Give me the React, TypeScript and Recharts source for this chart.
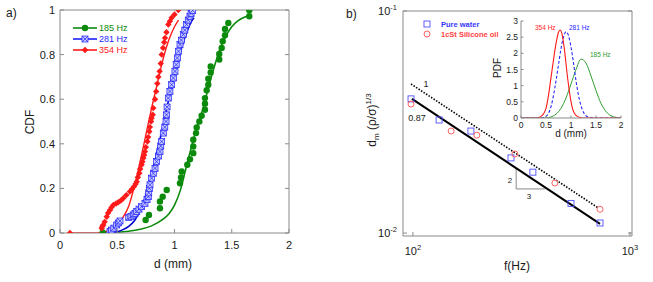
import React from 'react';
import { ComposedChart, Scatter, Line, XAxis, YAxis } from 'recharts';

// a) cumulative distributions, [d (mm), CDF]
const cdf185: [number, number][] = [
  [0.373, 0.003], [0.748, 0.058], [0.777, 0.081], [0.873, 0.111], [0.873, 0.141], [0.897, 0.163],
  [0.932, 0.193], [1.048, 0.223], [1.057, 0.249], [1.063, 0.276], [1.112, 0.306], [1.135, 0.331],
  [1.164, 0.358], [1.164, 0.388], [1.164, 0.418], [1.188, 0.448], [1.194, 0.473], [1.217, 0.5],
  [1.237, 0.526], [1.266, 0.553], [1.266, 0.58], [1.266, 0.605], [1.281, 0.64], [1.295, 0.665],
  [1.295, 0.692], [1.316, 0.72], [1.316, 0.747], [1.391, 0.778], [1.391, 0.803], [1.412, 0.83],
  [1.421, 0.86], [1.441, 0.887], [1.441, 0.915], [1.47, 0.942], [1.653, 0.972], [1.653, 0.999],
];
const cdf281: [number, number][] = [
  [0.437, 0.006], [0.451, 0.013], [0.47, 0.022], [0.495, 0.036], [0.51, 0.045], [0.524, 0.054],
  [0.6, 0.07], [0.62, 0.075], [0.64, 0.081], [0.655, 0.088], [0.67, 0.096], [0.69, 0.107],
  [0.713, 0.118], [0.742, 0.133], [0.76, 0.15], [0.771, 0.163], [0.775, 0.18], [0.78, 0.2],
  [0.786, 0.216], [0.8, 0.246], [0.815, 0.268], [0.83, 0.29], [0.844, 0.32], [0.86, 0.345],
  [0.873, 0.365], [0.88, 0.39], [0.888, 0.41], [0.902, 0.448], [0.915, 0.475], [0.926, 0.5],
  [0.93, 0.53], [0.935, 0.565], [0.946, 0.605], [0.96, 0.635], [0.975, 0.665], [0.99, 0.695],
  [1.004, 0.725], [1.015, 0.755], [1.025, 0.785], [1.035, 0.815], [1.048, 0.845], [1.06, 0.865],
  [1.077, 0.89], [1.09, 0.91], [1.106, 0.935], [1.12, 0.955], [1.135, 0.972], [1.145, 0.985],
  [1.159, 0.998],
];
const cdf354: [number, number][] = [
  [0.087, 0], [0.364, 0.021], [0.37, 0.03], [0.378, 0.036], [0.39, 0.05], [0.408, 0.073],
  [0.42, 0.09], [0.437, 0.103], [0.45, 0.115], [0.466, 0.126], [0.49, 0.132], [0.509, 0.138],
  [0.53, 0.145], [0.553, 0.156], [0.58, 0.17], [0.611, 0.186], [0.63, 0.197], [0.646, 0.208],
  [0.66, 0.22], [0.67, 0.23], [0.68, 0.25], [0.693, 0.268], [0.7, 0.287], [0.713, 0.306],
  [0.72, 0.32], [0.728, 0.336], [0.735, 0.35], [0.742, 0.365], [0.75, 0.385], [0.763, 0.41],
  [0.77, 0.43], [0.78, 0.455], [0.785, 0.475], [0.795, 0.5], [0.8, 0.515], [0.81, 0.53],
  [0.815, 0.56], [0.83, 0.6], [0.84, 0.635], [0.85, 0.67], [0.859, 0.7], [0.87, 0.725],
  [0.88, 0.76], [0.888, 0.8], [0.9, 0.83], [0.91, 0.855], [0.917, 0.875], [0.93, 0.9],
  [0.946, 0.935], [0.96, 0.95], [0.975, 0.965], [1.0, 0.98], [1.033, 1.0],
];
const fit185: [number, number][] = [
  [0.37, 0], [0.5, 0.003], [0.6, 0.008], [0.7, 0.017], [0.8, 0.032], [0.9, 0.062], [0.95, 0.085],
  [1.0, 0.125], [1.05, 0.19], [1.1, 0.29], [1.15, 0.39], [1.2, 0.48], [1.25, 0.56], [1.3, 0.66],
  [1.35, 0.75], [1.4, 0.83], [1.45, 0.885], [1.5, 0.925], [1.55, 0.95], [1.6, 0.965], [1.65, 0.975],
];
const fit281: [number, number][] = [
  [0.44, 0], [0.5, 0.005], [0.55, 0.015], [0.6, 0.03], [0.65, 0.055], [0.7, 0.1], [0.75, 0.17],
  [0.8, 0.26], [0.85, 0.37], [0.9, 0.48], [0.95, 0.6], [1.0, 0.71], [1.05, 0.81], [1.1, 0.89],
  [1.15, 0.95], [1.17, 0.965],
];
const fit354: [number, number][] = [
  [0.087, 0], [0.3, 0], [0.35, 0.001], [0.4, 0.006], [0.45, 0.02], [0.5, 0.04], [0.55, 0.07],
  [0.6, 0.12], [0.65, 0.21], [0.7, 0.32], [0.75, 0.44], [0.8, 0.56], [0.85, 0.67], [0.9, 0.78],
  [0.95, 0.865], [1.0, 0.925], [1.035, 0.955],
];
const dTicks = [0, 0.5, 1, 1.5, 2];
const cdfTicks = [0, 0.2, 0.4, 0.6, 0.8, 1];

// b) scaled mean diameter vs frequency, [f (Hz), d_m (rho/sigma)^1/3]
const pureWater: [number, number][] = [
  [98, 0.0402], [132, 0.0323], [185, 0.0288], [283, 0.0218], [357, 0.0188], [535, 0.0136], [728, 0.0111],
];
const siliconeOil: [number, number][] = [
  [98, 0.0381], [150, 0.0288], [197, 0.0276], [295, 0.0227], [451, 0.0168], [728, 0.0128],
];
const fitSolid: [number, number][] = [[99, 0.0402], [728, 0.011]];
const fitDotted: [number, number][] = [[98, 0.0469], [712, 0.013]];
const slopeTriangle: [number, number][] = [[299, 0.0196], [299, 0.0158], [405, 0.0158]];
const fTicks = [100, 1000];
const dmTicks = [0.01, 0.1];

// inset: PDFs, [d (mm), PDF]
const pdf354: [number, number][] = [
  [0, 0], [0.3, 0], [0.4, 0.05], [0.5, 0.3], [0.55, 0.7], [0.6, 1.25], [0.65, 1.8], [0.7, 2.3],
  [0.75, 2.65], [0.78, 2.72], [0.82, 2.6], [0.87, 2.1], [0.92, 1.4], [0.97, 0.8], [1.02, 0.35],
  [1.1, 0.08], [1.2, 0.01], [1.3, 0], [2, 0],
];
const pdf281: [number, number][] = [
  [0, 0], [0.4, 0], [0.5, 0.05], [0.55, 0.15], [0.6, 0.35], [0.65, 0.7], [0.7, 1.15], [0.75, 1.65],
  [0.8, 2.15], [0.85, 2.5], [0.9, 2.67], [0.95, 2.55], [1.0, 2.2], [1.05, 1.7], [1.1, 1.15],
  [1.15, 0.7], [1.2, 0.38], [1.25, 0.18], [1.3, 0.07], [1.4, 0.01], [1.5, 0], [2, 0],
];
const pdf185: [number, number][] = [
  [0, 0], [0.5, 0], [0.6, 0.03], [0.7, 0.12], [0.8, 0.3], [0.9, 0.62], [1.0, 1.05], [1.1, 1.5],
  [1.2, 1.82], [1.3, 1.7], [1.4, 1.3], [1.5, 0.85], [1.6, 0.45], [1.7, 0.2], [1.8, 0.07],
  [1.9, 0.02], [2, 0],
];
const pdfTicks = [0, 0.5, 1, 1.5, 2, 2.5, 3];

const GRAY = '#8a8a8a';
const INK = '#1a1a1a';
const RED = '#ff1a1a';
const BLUE = '#1f1fff';
const GREEN = '#0b8a0b';
const FONT = '"Liberation Sans", Arial, Helvetica, sans-serif';

const toDC = (rows: [number, number][]) => rows.map(([d, c]) => ({ d, c }));
const toF = (rows: [number, number][]) => rows.map(([f, dm]) => ({ f, dm }));
const toP = (rows: [number, number][]) => rows.map(([d, p]) => ({ d, p }));

const plain = (v: number) => String(v);
const pow10 = (v: number) => (
  <>
    10<tspan dy={-5} fontSize={7.5}>{Math.round(Math.log10(v))}</tspan>
  </>
);

// inward MATLAB-style ticks
const bottomTick = (fmt: (v: number) => React.ReactNode, len: number, gap: number, fs: number) => (p: any) => (
  <g>
    <line x1={p.x} x2={p.x} y1={p.y} y2={p.y - len} stroke={GRAY} />
    <text x={p.x} y={p.y + gap} textAnchor="middle" fontSize={fs} fill={INK}>{fmt(p.payload.value)}</text>
  </g>
);
const leftTick = (fmt: (v: number) => React.ReactNode, len: number, gap: number, fs: number, dy: number) => (p: any) => (
  <g>
    <line x1={p.x} x2={p.x + len} y1={p.y} y2={p.y} stroke={GRAY} />
    <text x={p.x - gap} y={p.y + dy} textAnchor="end" fontSize={fs} fill={INK}>{fmt(p.payload.value)}</text>
  </g>
);
const topTick = (len: number) => (p: any) => <line x1={p.x} x2={p.x} y1={p.y} y2={p.y + len} stroke={GRAY} />;
const rightTick = (len: number) => (p: any) => <line x1={p.x} x2={p.x - len} y1={p.y} y2={p.y} stroke={GRAY} />;

const Diamond = (p: any) =>
  p.cx == null ? <g /> : (
    <path d={`M${p.cx},${p.cy - 3.2}L${p.cx + 3.2},${p.cy}L${p.cx},${p.cy + 3.2}L${p.cx - 3.2},${p.cy}Z`} fill={RED} />
  );
const CrossSquare = (p: any) =>
  p.cx == null ? <g /> : (
    <g stroke={BLUE} strokeWidth={0.7}>
      <rect x={p.cx - 3} y={p.cy - 3} width={6} height={6} fill="#c4c8ff" />
      <line x1={p.cx - 3} y1={p.cy - 3} x2={p.cx + 3} y2={p.cy + 3} />
      <line x1={p.cx + 3} y1={p.cy - 3} x2={p.cx - 3} y2={p.cy + 3} />
    </g>
  );
const Dot = (p: any) => (p.cx == null ? <g /> : <circle cx={p.cx} cy={p.cy} r={3.2} fill={GREEN} />);
const OpenSquare = (p: any) =>
  p.cx == null ? <g /> : (
    <rect x={p.cx - 3} y={p.cy - 3} width={6} height={6} fill="none" stroke="#5050ff" strokeWidth={0.9} />
  );
const OpenCircle = (p: any) =>
  p.cx == null ? <g /> : <circle cx={p.cx} cy={p.cy} r={3} fill="none" stroke="#ff5050" strokeWidth={0.9} />;

const axisLine = { stroke: GRAY };

const PanelA = () => (
  <ComposedChart width={300} height={282} margin={{ top: 0, right: 0, bottom: 0, left: 0 }}>
    <XAxis dataKey="d" type="number" domain={[0, 2]} ticks={dTicks} interval={0} allowDataOverflow
      height={49} tickSize={0} tickMargin={0} tickLine={false} axisLine={axisLine} tick={bottomTick(plain, 4, 15.5, 11)} />
    <XAxis xAxisId="top" orientation="top" type="number" domain={[0, 2]} ticks={dTicks} interval={0} allowDataOverflow
      height={10} tickSize={0} tickMargin={0} tickLine={false} axisLine={axisLine} tick={topTick(4)} />
    <YAxis dataKey="c" type="number" domain={[0, 1]} ticks={cdfTicks} interval={0} allowDataOverflow
      width={60} tickSize={0} tickMargin={0} tickLine={false} axisLine={axisLine} tick={leftTick(plain, 4, 5, 11, 4)} />
    <YAxis yAxisId="right" orientation="right" type="number" domain={[0, 1]} ticks={cdfTicks} interval={0} allowDataOverflow
      width={11} tickSize={0} tickMargin={0} tickLine={false} axisLine={axisLine} tick={rightTick(4)} />
    <Line data={toDC(fit185)} dataKey="c" type="monotone" stroke={GREEN} strokeWidth={1.6} dot={false} isAnimationActive={false} />
    <Line data={toDC(fit281)} dataKey="c" type="monotone" stroke="#0000d0" strokeWidth={1.6} dot={false} isAnimationActive={false} />
    <Line data={toDC(fit354)} dataKey="c" type="monotone" stroke={RED} strokeWidth={1.4} dot={false} isAnimationActive={false} />
    <Scatter data={toDC(cdf185)} shape={Dot} isAnimationActive={false} />
    <Scatter data={toDC(cdf281)} shape={CrossSquare} isAnimationActive={false} />
    <Scatter data={toDC(cdf354)} shape={Diamond} isAnimationActive={false} />
  </ComposedChart>
);

const PanelB = () => (
  <ComposedChart width={323} height={282} margin={{ top: 0, right: 0, bottom: 0, left: 0 }}>
    <XAxis dataKey="f" type="number" scale="log" domain={[90, 1022]} ticks={fTicks} interval={0} allowDataOverflow
      height={46} tickSize={0} tickMargin={0} tickLine={false} axisLine={axisLine} tick={bottomTick(pow10, 4, 19, 11)} />
    <XAxis xAxisId="top" orientation="top" type="number" scale="log" domain={[90, 1022]} ticks={fTicks} interval={0} allowDataOverflow
      height={11} tickSize={0} tickMargin={0} tickLine={false} axisLine={axisLine} tick={topTick(4)} />
    <YAxis dataKey="dm" type="number" scale="log" domain={[0.0097, 0.1]} ticks={dmTicks} interval={0} allowDataOverflow
      width={73} tickSize={0} tickMargin={0} tickLine={false} axisLine={axisLine} tick={leftTick(pow10, 4, 6, 11, 3.5)} />
    <YAxis yAxisId="right" orientation="right" type="number" scale="log" domain={[0.0097, 0.1]} ticks={dmTicks} interval={0} allowDataOverflow
      width={21} tickSize={0} tickMargin={0} tickLine={false} axisLine={axisLine} tick={rightTick(4)} />
    <Line data={toF(slopeTriangle)} dataKey="dm" type="linear" stroke={GRAY} strokeWidth={1} dot={false} isAnimationActive={false} />
    <Line data={toF(fitDotted)} dataKey="dm" type="linear" stroke="#000" strokeWidth={1.6} strokeDasharray="1.5 1.5" dot={false} isAnimationActive={false} />
    <Line data={toF(fitSolid)} dataKey="dm" type="linear" stroke="#000" strokeWidth={2} dot={false} isAnimationActive={false} />
    <Scatter data={toF(pureWater)} shape={OpenSquare} isAnimationActive={false} />
    <Scatter data={toF(siliconeOil)} shape={OpenCircle} isAnimationActive={false} />
  </ComposedChart>
);

const Inset = () => (
  <ComposedChart width={140} height={140} margin={{ top: 21, right: 9, bottom: 0, left: 0 }}>
    <XAxis dataKey="d" type="number" domain={[0, 2]} ticks={dTicks} interval={0} allowDataOverflow
      height={22} tickSize={0} tickMargin={0} tickLine={false} axisLine={axisLine} tick={bottomTick(plain, 2.5, 9.5, 8.5)} />
    <YAxis dataKey="p" type="number" domain={[0, 3]} ticks={pdfTicks} interval={0} allowDataOverflow
      width={31} tickSize={0} tickMargin={0} tickLine={false} axisLine={axisLine} tick={leftTick(plain, 2.5, 3, 8.5, 3)} />
    <Line data={toP(pdf185)} dataKey="p" type="monotone" stroke="#2e9e2e" strokeWidth={1} dot={false} isAnimationActive={false} />
    <Line data={toP(pdf281)} dataKey="p" type="monotone" stroke="#2828ff" strokeWidth={1.1} strokeDasharray="3 2" dot={false} isAnimationActive={false} />
    <Line data={toP(pdf354)} dataKey="p" type="monotone" stroke={RED} strokeWidth={1.1} dot={false} isAnimationActive={false} />
  </ComposedChart>
);

const Overlay = () => (
  <svg width={653} height={282} style={{ position: 'absolute', left: 0, top: 0, pointerEvents: 'none' }} fontFamily={FONT}>
    <text x={6} y={17} fontSize={12} fill={INK}>a)</text>
    <text x={346} y={18} fontSize={12} fill={INK}>b)</text>

    {/* panel a legend */}
    <line x1={73} x2={97} y1={28} y2={28} stroke={GREEN} strokeWidth={1.6} />
    <Dot cx={85} cy={28} />
    <text x={99} y={31} fontSize={9} fill={GREEN}>185 Hz</text>
    <line x1={73} x2={97} y1={39} y2={39} stroke={BLUE} strokeWidth={1.6} />
    <CrossSquare cx={85} cy={39} />
    <text x={99} y={42} fontSize={9} fill={BLUE}>281 Hz</text>
    <line x1={73} x2={97} y1={50} y2={50} stroke={RED} strokeWidth={1.6} />
    <Diamond cx={85} cy={50} />
    <text x={99} y={53} fontSize={9} fill={RED}>354 Hz</text>

    <text transform="translate(34,122) rotate(-90)" textAnchor="middle" fontSize={12} fill={INK}>CDF</text>
    <text x={173} y={268} textAnchor="middle" fontSize={12} fill={INK}>d (mm)</text>

    {/* panel b legend + notes */}
    <OpenSquare cx={427} cy={24} />
    <text x={441} y={26.5} fontSize={7.5} fontWeight={600} fill="#3535ff">Pure water</text>
    <OpenCircle cx={427} cy={34} />
    <text x={441} y={36.5} fontSize={7.5} fontWeight={600} fill="#ff4040">1cSt Silicone oil</text>
    <text x={426} y={87} textAnchor="middle" fontSize={9} fill={INK}>1</text>
    <text x={417} y={121} textAnchor="middle" fontSize={9} fill={INK}>0.87</text>
    <text x={510} y={183} textAnchor="middle" fontSize={8} fill={INK}>2</text>
    <text x={529} y={199} textAnchor="middle" fontSize={8} fill={INK}>3</text>

    <text transform="translate(376,120) rotate(-90)" textAnchor="middle" fontSize={12} fill={INK}>
      d<tspan dy={3} fontSize={8}>m</tspan><tspan dy={-3}> (ρ/σ)</tspan><tspan dy={-5} fontSize={8}>1/3</tspan>
    </text>
    <text x={517} y={270} textAnchor="middle" fontSize={12} fill={INK}>f(Hz)</text>

    {/* inset labels */}
    <text transform="translate(501,68) rotate(-90)" textAnchor="middle" fontSize={10} fill={INK}>PDF</text>
    <text x={571} y={137} textAnchor="middle" fontSize={10} fill={INK}>d (mm)</text>
    <text x={535} y={30} fontSize={6.5} fill={RED}>354 Hz</text>
    <text x={569} y={30} fontSize={6.5} fill="#2828ff">281 Hz</text>
    <text x={590} y={57} fontSize={6.5} fill="#2e9e2e">185 Hz</text>
  </svg>
);

export default function App() {
  return (
    <div style={{ position: 'absolute', left: 0, top: 0, width: 653, height: 282, background: '#fff', fontFamily: FONT, overflow: 'hidden' }}>
      <div style={{ position: 'absolute', left: 0, top: 0 }}><PanelA /></div>
      <div style={{ position: 'absolute', left: 330, top: 0 }}><PanelB /></div>
      <div style={{ position: 'absolute', left: 490, top: 0 }}><Inset /></div>
      <Overlay />
    </div>
  );
}
